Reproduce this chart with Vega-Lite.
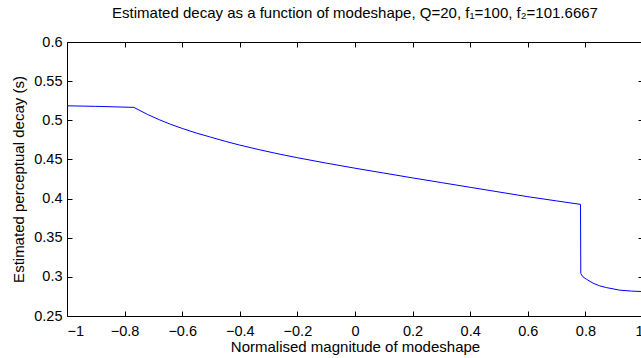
{
  "$schema": "https://vega.github.io/schema/vega-lite/v6.json",
  "autosize": {"type": "none"},
  "padding": {"left": 67, "top": 42, "right": 0, "bottom": 42},
  "width": 576,
  "height": 274,
  "background": "white",
  "title": {
    "text": "Estimated decay as a function of modeshape, Q=20, f₁=100, f₂=101.6667",
    "font": "Liberation Sans",
    "fontSize": 15,
    "fontWeight": "normal",
    "color": "black",
    "anchor": "middle",
    "offset": 13
  },
  "config": {
    "view": {"stroke": null},
    "axis": {
      "domainColor": "black",
      "domainWidth": 1,
      "tickColor": "black",
      "tickWidth": 1,
      "tickSize": -5,
      "grid": false,
      "labelFont": "Liberation Sans",
      "labelFontSize": 14.5,
      "labelColor": "black",
      "titleFont": "Liberation Sans",
      "titleFontSize": 15,
      "titleFontWeight": "normal",
      "titleColor": "black"
    }
  },
  "data": {
    "values": [
      {"x": -1.0, "y": 0.5185},
      {"x": -0.9, "y": 0.5178},
      {"x": -0.768, "y": 0.5165},
      {"x": -0.72, "y": 0.5074},
      {"x": -0.678, "y": 0.5005},
      {"x": -0.64, "y": 0.4948},
      {"x": -0.6, "y": 0.4896},
      {"x": -0.55, "y": 0.4836},
      {"x": -0.505, "y": 0.4789},
      {"x": -0.45, "y": 0.4731},
      {"x": -0.4, "y": 0.4683},
      {"x": -0.331, "y": 0.4623},
      {"x": -0.26, "y": 0.4566},
      {"x": -0.2, "y": 0.4522},
      {"x": -0.1, "y": 0.4453},
      {"x": 0.0, "y": 0.4388},
      {"x": 0.1, "y": 0.4326},
      {"x": 0.2, "y": 0.4264},
      {"x": 0.3, "y": 0.4204},
      {"x": 0.4, "y": 0.4144},
      {"x": 0.5, "y": 0.4084},
      {"x": 0.6, "y": 0.4024},
      {"x": 0.7, "y": 0.3970},
      {"x": 0.783, "y": 0.3926},
      {"x": 0.784, "y": 0.3042},
      {"x": 0.7917, "y": 0.3},
      {"x": 0.8035, "y": 0.297},
      {"x": 0.8264, "y": 0.2919},
      {"x": 0.8497, "y": 0.2885},
      {"x": 0.873, "y": 0.2863},
      {"x": 0.919, "y": 0.283},
      {"x": 0.96, "y": 0.2818},
      {"x": 1.0, "y": 0.2812}
    ]
  },
  "layer": [
    {
      "mark": {"type": "line", "color": "#0000ff", "strokeWidth": 1, "clip": true},
      "encoding": {
        "x": {
          "field": "x", "type": "quantitative",
          "scale": {"domain": [-1, 1], "nice": false, "zero": false},
          "axis": {
            "values": [-1, -0.8, -0.6, -0.4, -0.2, 0, 0.2, 0.4, 0.6, 0.8, 1],
            "format": ".1~f",
            "labelPadding": 13,
            "title": "Normalised magnitude of modeshape",
            "titlePadding": 2
          }
        },
        "y": {
          "field": "y", "type": "quantitative",
          "scale": {"domain": [0.25, 0.6], "nice": false, "zero": false},
          "axis": {
            "values": [0.25, 0.3, 0.35, 0.4, 0.45, 0.5, 0.55, 0.6],
            "format": ".2~f",
            "labelPadding": 10,
            "title": "Estimated perceptual decay (s)",
            "titlePadding": 7
          }
        }
      }
    },
    {
      "mark": {"type": "line", "opacity": 0},
      "encoding": {
        "x": {
          "field": "x", "type": "quantitative",
          "scale": {"domain": [-1, 1], "nice": false, "zero": false},
          "axis": {
            "orient": "top",
            "values": [-1, -0.8, -0.6, -0.4, -0.2, 0, 0.2, 0.4, 0.6, 0.8, 1],
            "labels": false,
            "title": null
          }
        },
        "y": {
          "field": "y", "type": "quantitative",
          "scale": {"domain": [0.25, 0.6], "nice": false, "zero": false},
          "axis": {
            "orient": "right",
            "values": [0.25, 0.3, 0.35, 0.4, 0.45, 0.5, 0.55, 0.6],
            "labels": false,
            "title": null
          }
        }
      }
    }
  ],
  "resolve": {"axis": {"x": "independent", "y": "independent"}}
}
